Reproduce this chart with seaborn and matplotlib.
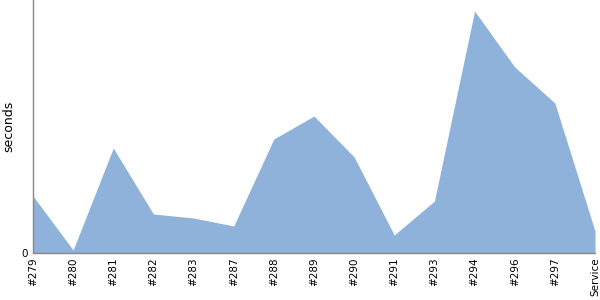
import matplotlib
matplotlib.use("Agg")
import matplotlib.pyplot as plt
import seaborn as sns
import pandas as pd

categories = ["#279", "#280", "#281", "#282", "#283", "#287", "#288", "#289",
              "#290", "#291", "#293", "#294", "#296", "#297", "Service"]
seconds = [57, 3, 105, 39, 35, 27, 114, 137, 96, 18, 52, 242, 186, 150, 22]

sns.set_style("white")
plt.rcParams['font.family'] = ['DejaVu Sans']
plt.rcParams['text.color'] = 'black'
plt.rcParams['axes.labelcolor'] = 'black'
plt.rcParams['xtick.color'] = 'black'
plt.rcParams['ytick.color'] = 'black'

df = pd.DataFrame({"build": categories, "seconds": seconds})
df["pos"] = range(len(df))

fig = plt.figure(figsize=(6, 3), dpi=100)
ax = fig.add_axes([33/600, 47/300, 562/600, 253/300])
sns.lineplot(data=df, x="pos", y="seconds", ax=ax, color="#8FB2DB", linewidth=0)
ax.fill_between(df["pos"], df["seconds"], color="#8FB2DB", linewidth=0)

ax.set_xlim(0, len(categories) - 1)
ax.set_ylim(0, 253)
ax.set_xticks(df["pos"])
ax.set_xticklabels(categories, rotation=90, fontsize=7.5, color="black")
ax.set_yticks([0])
ax.set_yticklabels(["0"], fontsize=7.5, color="black")
ax.set_xlabel("")
ax.set_ylabel("seconds", fontsize=9, color="black")
ax.yaxis.set_label_coords(-0.031, 0.5)
ax.tick_params(axis="y", length=3, color="#888888", pad=1)
ax.tick_params(axis="x", length=0, pad=3)
for s in ["top", "right"]:
    ax.spines[s].set_visible(False)
for s in ["left", "bottom"]:
    ax.spines[s].set_color("#888888")
    ax.spines[s].set_linewidth(1)

fig.savefig("out.png", dpi=100)
